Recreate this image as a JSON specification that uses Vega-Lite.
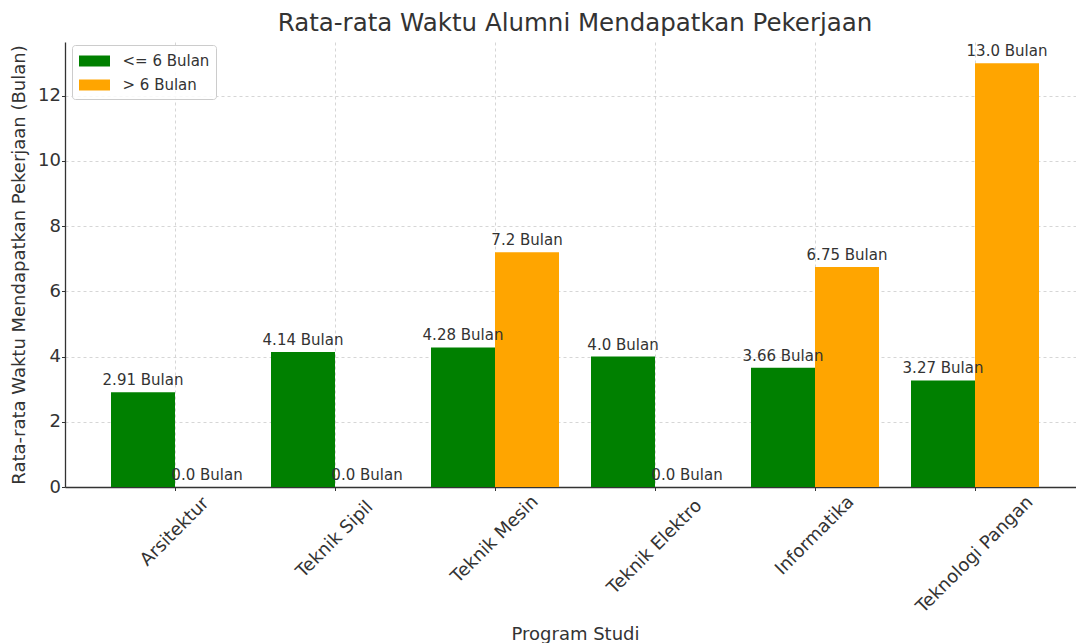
{
  "$schema": "https://vega.github.io/schema/vega-lite/v6.json",
  "width": 1020,
  "height": 445,
  "autosize": "none",
  "padding": {"left": 65, "top": 42, "right": 1, "bottom": 156},
  "background": "white",
  "title": {"text": "Rata-rata Waktu Alumni Mendapatkan Pekerjaan", "fontSize": 24.5, "font": "DejaVu Sans", "fontWeight": "normal", "color": "#333333", "offset": 6, "anchor": "middle"},
  "data": {"values": [
    {"program": "Arsitektur", "kategori": "<= 6 Bulan", "bulan": 2.91, "label": "2.91 Bulan"},
    {"program": "Arsitektur", "kategori": "> 6 Bulan", "bulan": 0.0, "label": "0.0 Bulan"},
    {"program": "Teknik Sipil", "kategori": "<= 6 Bulan", "bulan": 4.14, "label": "4.14 Bulan"},
    {"program": "Teknik Sipil", "kategori": "> 6 Bulan", "bulan": 0.0, "label": "0.0 Bulan"},
    {"program": "Teknik Mesin", "kategori": "<= 6 Bulan", "bulan": 4.28, "label": "4.28 Bulan"},
    {"program": "Teknik Mesin", "kategori": "> 6 Bulan", "bulan": 7.2, "label": "7.2 Bulan"},
    {"program": "Teknik Elektro", "kategori": "<= 6 Bulan", "bulan": 4.0, "label": "4.0 Bulan"},
    {"program": "Teknik Elektro", "kategori": "> 6 Bulan", "bulan": 0.0, "label": "0.0 Bulan"},
    {"program": "Informatika", "kategori": "<= 6 Bulan", "bulan": 3.66, "label": "3.66 Bulan"},
    {"program": "Informatika", "kategori": "> 6 Bulan", "bulan": 6.75, "label": "6.75 Bulan"},
    {"program": "Teknologi Pangan", "kategori": "<= 6 Bulan", "bulan": 3.27, "label": "3.27 Bulan"},
    {"program": "Teknologi Pangan", "kategori": "> 6 Bulan", "bulan": 13.0, "label": "13.0 Bulan"}
  ]},
  "encoding": {
    "x": {
      "field": "program", "type": "nominal",
      "sort": ["Arsitektur", "Teknik Sipil", "Teknik Mesin", "Teknik Elektro", "Informatika", "Teknologi Pangan"],
      "scale": {"paddingInner": 0.2, "paddingOuter": 0.2875},
      "title": "Program Studi",
      "axis": {
        "labelAngle": -45, "labelAlign": "center", "labelBaseline": "middle",
        "labelPadding": {"expr": "2.7 + length(datum.label) * 3.83"},
        "bandPosition": 0.5, "grid": true, "labelFontSize": 18, "titlePadding": 9
      }
    },
    "xOffset": {"field": "kategori", "sort": ["<= 6 Bulan", "> 6 Bulan"], "scale": {"paddingInner": 0, "paddingOuter": 0}},
    "y": {
      "field": "bulan", "type": "quantitative",
      "scale": {"domain": [0, 13.65], "nice": false, "zero": true},
      "title": "Rata-rata Waktu Mendapatkan Pekerjaan (Bulan)",
      "axis": {"values": [0, 2, 4, 6, 8, 10, 12], "grid": true, "labelFontSize": 18, "tickSize": 3.5, "labelPadding": 1, "titlePadding": 9}
    }
  },
  "layer": [
    {
      "mark": {"type": "bar"},
      "encoding": {
        "color": {
          "field": "kategori", "type": "nominal",
          "scale": {"domain": ["<= 6 Bulan", "> 6 Bulan"], "range": ["#008000", "#FFA500"]},
          "legend": {
            "title": null, "orient": "none", "legendX": 7, "legendY": 3,
            "padding": 6,
            "symbolType": "M-1.55,-0.55L1.55,-0.55L1.55,0.55L-1.55,0.55Z",
            "symbolSize": 400, "symbolOffset": 6.5, "labelOffset": 18, "rowPadding": 6,
            "symbolStrokeWidth": 0, "symbolOpacity": 1,
            "labelFontSize": 15, "labelFont": "DejaVu Sans", "labelColor": "#333333",
            "fillColor": "rgba(255,255,255,0.85)", "strokeColor": "#cccccc", "cornerRadius": 3
          }
        }
      }
    },
    {
      "mark": {"type": "text", "baseline": "alphabetic", "align": "center", "dy": -7, "fontSize": 15, "font": "DejaVu Sans", "color": "#333333"},
      "encoding": {"text": {"field": "label", "type": "nominal"}}
    }
  ],
  "config": {
    "view": {"stroke": null},
    "font": "DejaVu Sans",
    "axis": {
      "labelFont": "DejaVu Sans", "titleFont": "DejaVu Sans", "labelColor": "#333333", "titleColor": "#333333",
      "titleFontSize": 18, "titleFontWeight": "normal",
      "domainColor": "#333333", "domainWidth": 1.3, "tickColor": "#333333", "tickSize": 3.5,
      "gridColor": "#cccccc", "gridDash": [3, 3], "gridWidth": 0.8
    }
  }
}
